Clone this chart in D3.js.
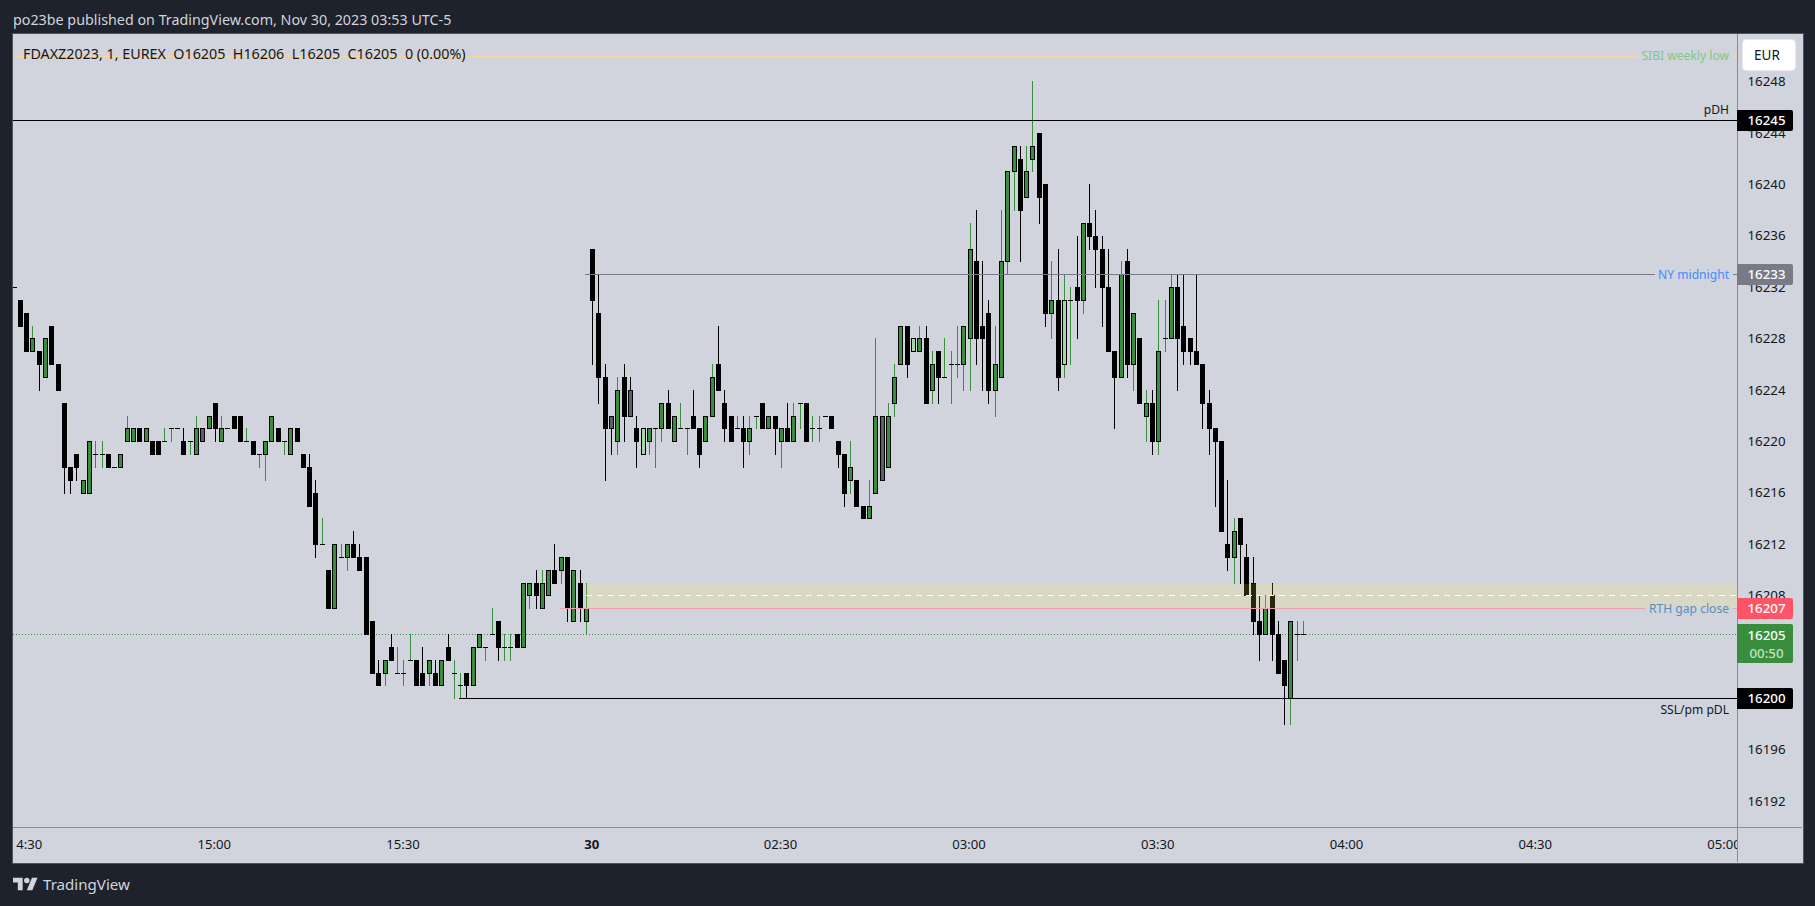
<!DOCTYPE html>
<html><head><meta charset="utf-8">
<script src="https://cdn.jsdelivr.net/npm/d3@7"></script>
<style>
html,body{margin:0;padding:0;background:#1e222d;overflow:hidden}
svg{display:block}
text{font-family:"Noto Sans",sans-serif}
</style></head><body>
<svg id="c" width="1815" height="906"></svg>
<script>
const opens=[16232,16231,16230,16227,16227,16225,16229,16226,16223,16218,16219,16216,16216,16219,16219,16219,16218,16218,16220,16220,16221,16220,16220,16220,16220,16221,16221,16220,16220,16219,16221,16221,16223,16220,16221,16222,16222,16220,16220,16219,16219,16220,16221,16220,16219,16221,16219,16218,16216,16212,16210,16207,16211,16211,16212,16211,16211,16206,16202,16202,16204,16202,16202,16203,16203,16202,16202,16202,16201,16204,16202,16201,16202,16201,16204,16204,16205,16206,16204,16204,16205,16204,16208,16209,16207,16208,16210,16210,16211,16206,16209,16206,16235,16230,16225,16222,16220,16225,16224,16221,16219,16220,16221,16221,16223,16220,16221,16221,16222,16221,16220,16222,16226,16223,16222,16221,16221,16220,16222,16223,16221,16222,16220,16221,16220,16223,16223,16221,16221,16222,16222,16220,16219,16217,16217,16215,16214,16216,16222,16218,16223,16226,16229,16227,16227,16228,16224,16227,16225,16226,16226,16226,16228,16234,16229,16230,16224,16225,16234,16241,16242,16239,16242,16244,16240,16230,16231,16226,16231,16232,16231,16237,16236,16235,16232,16227,16225,16234,16226,16228,16222,16223,16220,16228,16228,16232,16229,16228,16227,16226,16223,16221,16220,16212,16211,16214,16211,16209,16206,16205,16208,16205,16203,16200,16205,16205];
const highs=[16232,16231,16230,16229,16227,16228,16229,16226,16223,16218,16219,16217,16220,16220,16220,16219,16218,16219,16222,16221,16221,16221,16220,16220,16221,16221,16221,16221,16220,16222,16221,16222,16223,16222,16221,16222,16222,16221,16220,16219,16220,16222,16221,16220,16221,16221,16219,16219,16217,16214,16210,16212,16212,16212,16213,16212,16211,16206,16203,16203,16205,16204,16203,16205,16203,16204,16203,16203,16203,16205,16203,16202,16202,16204,16205,16204,16207,16206,16205,16205,16205,16209,16209,16210,16210,16210,16212,16211,16211,16210,16210,16209,16235,16233,16226,16222,16225,16226,16225,16222,16221,16221,16221,16223,16224,16222,16223,16221,16224,16221,16222,16226,16229,16224,16222,16222,16222,16222,16222,16223,16222,16222,16221,16223,16223,16223,16223,16222,16222,16222,16222,16220,16219,16220,16217,16215,16217,16228,16222,16223,16226,16229,16229,16228,16229,16229,16227,16227,16228,16227,16229,16229,16237,16238,16234,16231,16229,16238,16241,16243,16243,16243,16248,16244,16240,16234,16235,16233,16232,16236,16237,16240,16238,16236,16235,16227,16234,16235,16230,16228,16224,16224,16231,16231,16233,16233,16233,16228,16233,16226,16224,16221,16220,16217,16214,16214,16212,16211,16208,16208,16209,16206,16203,16206,16206,16206];
const lows=[16232,16229,16227,16227,16224,16225,16226,16224,16216,16216,16217,16216,16216,16218,16218,16218,16218,16218,16220,16220,16220,16220,16219,16219,16220,16220,16221,16219,16219,16219,16220,16221,16220,16220,16221,16221,16220,16220,16219,16218,16217,16220,16220,16219,16219,16220,16218,16215,16211,16212,16207,16207,16211,16210,16211,16210,16205,16202,16201,16201,16203,16202,16201,16203,16201,16201,16201,16201,16201,16203,16200,16200,16200,16201,16204,16203,16205,16203,16203,16203,16204,16204,16207,16207,16207,16208,16209,16209,16206,16206,16206,16205,16226,16223,16217,16219,16219,16220,16222,16218,16219,16219,16218,16220,16221,16220,16221,16219,16221,16218,16220,16222,16224,16220,16220,16221,16218,16219,16221,16221,16221,16219,16218,16220,16220,16221,16220,16220,16220,16222,16221,16218,16215,16216,16215,16214,16214,16216,16217,16218,16222,16226,16225,16227,16227,16223,16223,16223,16225,16223,16225,16224,16224,16226,16224,16223,16222,16225,16233,16238,16234,16239,16241,16237,16229,16228,16224,16225,16226,16228,16230,16235,16232,16229,16227,16221,16225,16225,16224,16223,16220,16219,16219,16227,16228,16224,16226,16226,16226,16221,16219,16215,16213,16210,16209,16209,16208,16205,16203,16205,16203,16202,16198,16198,16203,16205];
const closes=[16232,16229,16227,16228,16226,16228,16226,16224,16218,16217,16218,16217,16220,16219,16219,16218,16218,16219,16221,16221,16220,16221,16219,16219,16220,16221,16221,16219,16220,16221,16220,16222,16221,16221,16221,16221,16220,16220,16219,16219,16220,16222,16220,16220,16221,16220,16218,16215,16212,16212,16207,16212,16211,16212,16211,16210,16205,16202,16201,16203,16203,16202,16202,16203,16201,16201,16203,16201,16203,16203,16202,16201,16201,16204,16205,16204,16205,16204,16204,16204,16204,16209,16209,16208,16209,16210,16209,16211,16207,16210,16207,16207,16231,16225,16221,16221,16224,16222,16222,16220,16221,16221,16221,16223,16221,16222,16221,16221,16221,16219,16222,16225,16224,16221,16220,16221,16220,16221,16222,16221,16222,16221,16221,16220,16222,16223,16220,16221,16221,16222,16221,16219,16216,16218,16215,16214,16215,16222,16217,16222,16225,16229,16226,16228,16228,16223,16226,16225,16225,16226,16226,16229,16235,16228,16228,16224,16226,16234,16241,16243,16238,16241,16243,16239,16230,16231,16225,16231,16231,16231,16237,16236,16235,16232,16227,16225,16233,16226,16230,16223,16223,16220,16227,16228,16232,16228,16227,16227,16226,16223,16221,16220,16213,16211,16213,16212,16208,16206,16205,16207,16205,16202,16201,16206,16205,16205];
const grayBars=[31,96,99,139];
const paleBars=[101,144,168];
const timeTickBars=[3,33,63,93,123,153,183,213,243,273];
const timeTickLabels=["14:30","15:00","15:30","30","02:30","03:00","03:30","04:00","04:30","05:00"];
const priceTicks=[16248,16244,16240,16236,16232,16228,16224,16220,16216,16212,16208,16204,16200,16196,16192];

const PL=13,PR=1737,PT=34,PB=827,RIGHT=1802,BOT=862;
const FONT='"Noto Sans",sans-serif';
const svg=d3.select("#c");
const y=d3.scaleLinear().domain([16245,16200]).range([120,698.25]);
const xs=d3.scaleLinear().domain([2,206]).range([20.3,1303.46]);
const X=n=>Math.floor(xs(n));
const Y=v=>Math.round(y(v));
const GREEN="#388e3c",INK="#131722";

svg.append("rect").attr("x",12).attr("y",33).attr("width",1791).attr("height",830).attr("fill","#d1d4dc").attr("stroke","#50535e").attr("stroke-width",1).attr("shape-rendering","crispEdges");
const defs=svg.append("defs");
defs.append("clipPath").attr("id","pane").append("rect").attr("x",PL).attr("y",PT).attr("width",PR-PL).attr("height",PB-PT);
defs.append("clipPath").attr("id","timeClip").append("rect").attr("x",15).attr("y",PB).attr("width",PR-15).attr("height",BOT-PB);

const crisp=svg.append("g").attr("shape-rendering","crispEdges");
const pane=crisp.append("g").attr("clip-path","url(#pane)");

function hline(g,v,x0,x1,color,dash){
  const l=g.append("line").attr("x1",x0).attr("x2",x1).attr("y1",Y(v)+.5).attr("y2",Y(v)+.5).attr("stroke",color).attr("stroke-width",1);
  if(dash)l.attr("stroke-dasharray",dash);
  return l;
}
hline(pane,16250,PL,1638,"#f7d6a0");hline(pane,16250,1733,PR,"#f7d6a0");
hline(pane,16205,PL,PR,GREEN,"1 2");

const bars=d3.range(opens.length).map(i=>({n:i+1,o:opens[i],h:highs[i],l:lows[i],c:closes[i]}));
const candles=pane.append("g");
candles.selectAll("rect.w").data(bars.filter(d=>d.h>d.l)).join("rect").attr("class","w")
  .attr("x",d=>X(d.n)).attr("width",1).attr("y",d=>Y(d.h)).attr("height",d=>Y(d.l)-Y(d.h)+1)
  .attr("fill",d=>(d.c>=d.o&&!grayBars.includes(d.n))?GREEN:"#000");
candles.selectAll("rect.b").data(bars).join("rect").attr("class","b")
  .attr("x",d=>X(d.n)-2).attr("width",5)
  .attr("y",d=>Y(Math.max(d.o,d.c))).attr("height",d=>Y(Math.min(d.o,d.c))-Y(Math.max(d.o,d.c))+1).attr("fill","#000");
candles.selectAll("rect.f").data(bars.filter(d=>(d.c>d.o||grayBars.includes(d.n))&&Math.abs(d.c-d.o)>0)).join("rect").attr("class","f")
  .attr("x",d=>X(d.n)-1).attr("width",3)
  .attr("y",d=>Y(Math.max(d.o,d.c))+1).attr("height",d=>Y(Math.min(d.o,d.c))-Y(Math.max(d.o,d.c))-1)
  .attr("fill",d=>grayBars.includes(d.n)?"#5d606b":paleBars.includes(d.n)?"#a5d6a7":GREEN);

pane.append("rect").attr("x",586).attr("width",PR-586).attr("y",Y(16208.9)).attr("height",Y(16207)-Y(16208.9)).attr("fill","rgba(255,237,76,.16)");
hline(pane,16208,586,PR,"#fff","5.5 5.5");
hline(pane,16207,560,1645,"#ec9fa8");hline(pane,16207,1733,PR,"#ec9fa8");
hline(pane,16245,PL,PR,"#000");
hline(pane,16233,585,1655,"#787b86");hline(pane,16233,1733,PR,"#787b86");
hline(pane,16200,459,PR,"#000");

crisp.append("line").attr("x1",PR+.5).attr("x2",PR+.5).attr("y1",PT).attr("y2",BOT).attr("stroke","#8a8d98");
crisp.append("line").attr("x1",PL).attr("x2",RIGHT).attr("y1",PB+.5).attr("y2",PB+.5).attr("stroke","#8a8d98");

const yAxis=d3.axisRight(y).tickValues(priceTicks).tickSize(0).tickFormat(d3.format("d"));
const gy=svg.append("g").attr("transform",`translate(${PR},0)`).call(yAxis);
gy.select(".domain").remove();
gy.selectAll("text").attr("x",29.5).attr("text-anchor","middle").attr("fill",INK).style("font-size","13.3px").style("font-family",FONT);

const xAxis=d3.axisBottom(xs).tickValues(timeTickBars).tickSize(0).tickPadding(0).tickFormat((d,i)=>timeTickLabels[i]);
const gxw=svg.append("g").attr("clip-path","url(#timeClip)");
const gx=gxw.append("g").attr("transform",`translate(-1.5,${PB})`).call(xAxis);
gx.select(".domain").remove();
gx.selectAll("text").attr("y",22).attr("dy",0).attr("fill",INK).style("font-size","13.1px").style("font-family",FONT).style("font-weight",d=>d===93?"700":"400");

const tags=[
 {v:16245,label:"16245",fill:"#000"},
 {v:16233,label:"16233",fill:"#787b86"},
 {v:16207,label:"16207",fill:"#ff5468"},
 {v:16200,label:"16200",fill:"#000"}
];
function tagShape(t,b,fill){
  const r=2,w=56;
  svg.append("path").attr("d",`M${PR} ${t}H${PR+w-r}a${r} ${r} 0 0 1 ${r} ${r}V${b-r}a${r} ${r} 0 0 1 ${-r} ${r}H${PR}Z`).attr("fill",fill);
}
const tagText=(s,cy,c)=>svg.append("text").attr("x",1766.5).attr("y",cy+5).attr("text-anchor","middle").attr("fill",c).style("font-size","13.3px").style("font-weight",500).text(s);
tags.forEach(d=>{const c=Y(d.v);tagShape(c-10,c+11,d.fill);tagText(d.label,c,"#fff");});
tagShape(624,663,GREEN);tagText("16205",634.5,"#fff");tagText("00:50",653,"#c3e0c5");

svg.append("rect").attr("x",1742.5).attr("y",39.5).attr("width",53).attr("height",31).attr("rx",4).attr("fill","#fff").attr("stroke","#e8eaef");
svg.append("text").attr("x",1767).attr("y",60).attr("text-anchor","middle").attr("fill",INK).style("font-size","13.5px").text("EUR");

const lab=(s,yy,c)=>svg.append("text").attr("x",1729).attr("y",yy).attr("text-anchor","end").attr("fill",c).style("font-size","12.1px").text(s);
lab("SIBI weekly low",60,"#81c784");
lab("pDH",114,"#131722");
lab("NY midnight",279,"#448aff");
lab("RTH gap close",613,"#5b8db8");
lab("SSL/pm pDL",714,"#131722");

svg.append("text").attr("x",13).attr("y",25).attr("fill","#d1d4dc").style("font-size","14.3px").text("po23be published on TradingView.com, Nov 30, 2023 03:53 UTC-5");
svg.append("text").attr("x",23).attr("y",58.5).attr("fill",INK).style("font-size","14.3px").style("white-space","pre").text("FDAXZ2023, 1, EUREX  O16205  H16206  L16205  C16205  0 (0.00%)");

svg.append("g").attr("transform","translate(13,875) scale(.69)").attr("fill","#d1d4dc").selectAll("path").data(["M14 22H7V11H0V4h14v18z","M28 22h-8l7.5-18h8L28 22z"]).join("path").attr("d",d=>d);
svg.append("circle").attr("cx",13+20*.69).attr("cy",875+8*.69).attr("r",4*.69).attr("fill","#d1d4dc");
svg.append("text").attr("x",43).attr("y",890).attr("fill","#d1d4dc").style("font-size","15.1px").text("TradingView");
</script></body></html>
